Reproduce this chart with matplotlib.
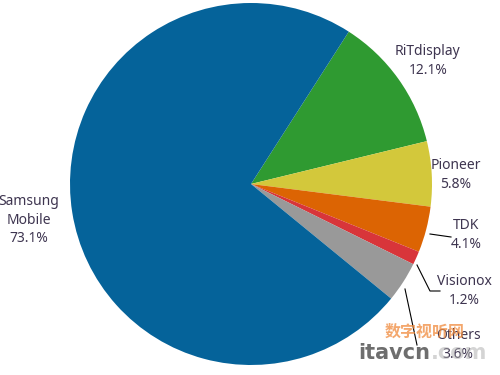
import matplotlib.pyplot as plt

labels = ["RiTdisplay", "Pioneer", "TDK", "Visionox", "Others", "Samsung\nMobile"]
shares = [12.1, 5.8, 4.1, 1.2, 3.6, 73.1]
colors = ["#2f9a31", "#d3c83b", "#dc6403", "#d8353a", "#999999", "#05639a"]

# label anchor points (pixel coords of the 500x375 picture)
label_pos = [(428, 61), (456, 175), (466, 235), (464, 291), (458, 345), (29, 220)]
# leader lines for the small slices
leaders = {
    "TDK": [(430, 234), (451, 237)],
    "Visionox": [(417, 265), (430, 291), (440, 291)],
    "Others": [(405, 289), (417, 345)],
}

H = 375
fig = plt.figure(figsize=(5, 3.75), dpi=100)
ax = fig.add_axes([0, 0, 1, 1])

ax.pie(shares, colors=colors, startangle=57.3, counterclock=False,
       center=(251, H - 184), radius=181, frame=True)
ax.set_xlim(0, 500)
ax.set_ylim(0, H)
ax.set_aspect("equal")
ax.axis("off")

txt_color = "#3e3550"
for lab, val, (x, y) in zip(labels, shares, label_pos):
    ax.text(x, H - y, "%s\n%.1f%%" % (lab, val), ha="center", va="center",
            fontsize=10, color=txt_color, linespacing=1.35, family="Noto Sans")

for name, pts in leaders.items():
    ax.plot([p[0] for p in pts], [H - p[1] for p in pts], color="black", lw=0.8)

# watermark
ax.text(425, H - 332, "数字视听网", fontsize=11.5, color="#f08a3c", alpha=0.75,
        ha="center", va="center", family=["Noto Sans CJK SC", "DejaVu Sans"], weight="bold")
ax.text(430, H - 353, "itavcn", fontsize=15, color="#555555", alpha=0.85,
        ha="right", va="center", family="DejaVu Sans", weight="bold")
ax.text(431, H - 353, ".com", fontsize=15, color="#aaaaaa", alpha=0.5,
        ha="left", va="center", family="DejaVu Sans", weight="bold")

fig.savefig("out.png", dpi=100)
